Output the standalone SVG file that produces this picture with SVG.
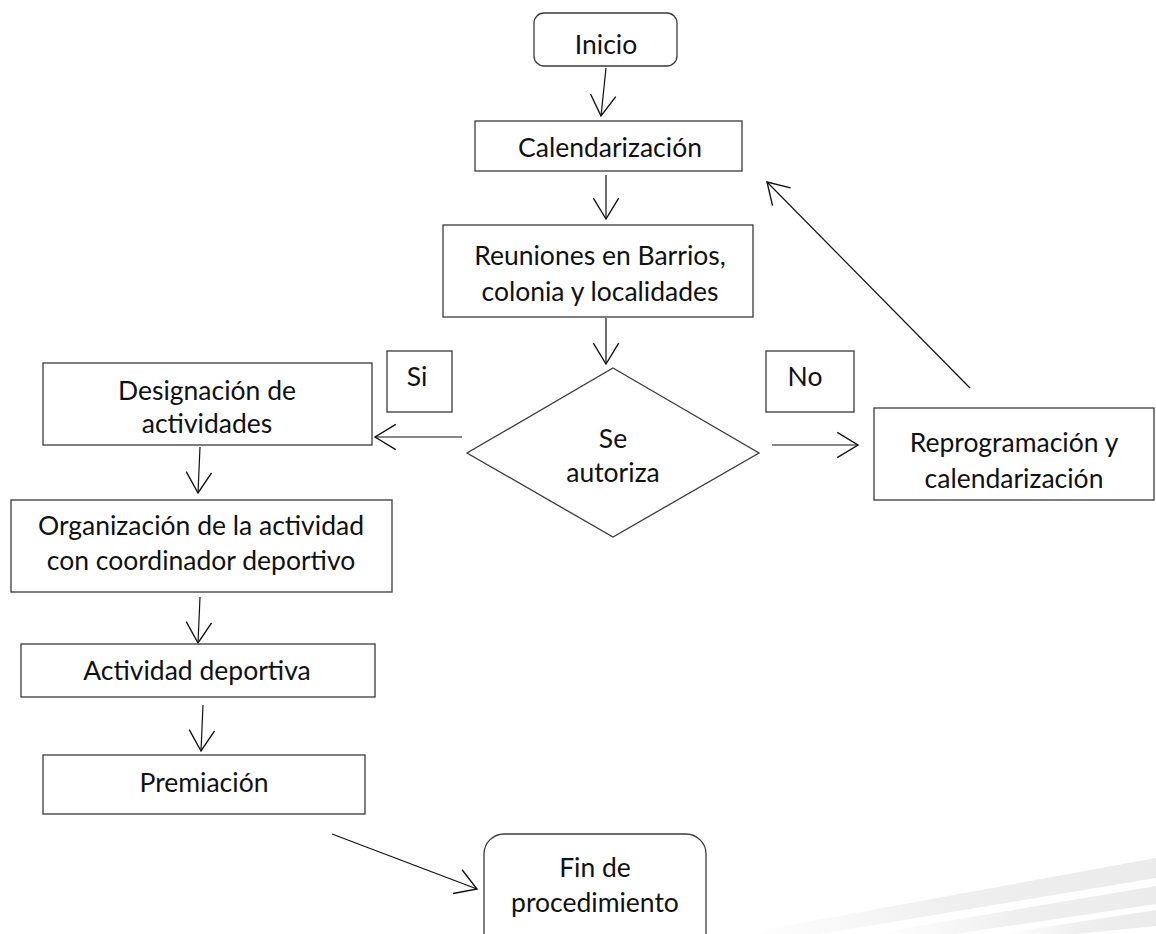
<svg xmlns="http://www.w3.org/2000/svg" width="1156" height="934" viewBox="0 0 1156 934">
<style>
.box{fill:#fff;stroke:#3a3a3a;stroke-width:1.3}
.t{font-family:Lato,"Noto Sans","Liberation Sans",sans-serif;font-size:26.5px;fill:#111;text-anchor:middle}
.c{fill:none;stroke:#111;stroke-width:1.2}
.stripe{fill:url(#sg)}
</style>
<defs>
<marker id="ah" markerUnits="userSpaceOnUse" markerWidth="30" markerHeight="30" viewBox="-20 -13 22 26" refX="0" refY="0" orient="auto">
<path d="M-18,-11 L0,0 L-18,11" fill="none" stroke="#111" stroke-width="1.2"/>
</marker>
<linearGradient id="sg" x1="0" y1="0" x2="1" y2="0">
<stop offset="0" stop-color="#f2f2f2" stop-opacity="0"/>
<stop offset="0.5" stop-color="#efefef" stop-opacity="1"/>
<stop offset="1" stop-color="#ebebeb" stop-opacity="1"/>
</linearGradient>
</defs>
<rect width="1156" height="934" fill="#fff"/>
<g id="background">
<polygon class="stripe" points="740,934 1156,858 1156,878 820,934"/>
<polygon class="stripe" points="870,934 1156,886 1156,904 955,934"/>
<polygon class="stripe" points="1000,934 1156,910 1156,926 1075,934"/>
</g>
<g id="connectors">
<line class="c" x1="606" y1="68" x2="601" y2="116" marker-end="url(#ah)"/>
<line class="c" x1="606" y1="175" x2="606" y2="219" marker-end="url(#ah)"/>
<line class="c" x1="606" y1="318" x2="606" y2="364" marker-end="url(#ah)"/>
<line class="c" x1="462" y1="437" x2="375" y2="437" marker-end="url(#ah)"/>
<line class="c" x1="772" y1="445" x2="858" y2="445" marker-end="url(#ah)"/>
<line class="c" x1="970" y1="388" x2="767" y2="182" marker-end="url(#ah)"/>
<line class="c" x1="200" y1="447" x2="198" y2="493" marker-end="url(#ah)"/>
<line class="c" x1="200" y1="597" x2="198" y2="643" marker-end="url(#ah)"/>
<line class="c" x1="203" y1="705" x2="201" y2="751" marker-end="url(#ah)"/>
<line class="c" x1="332" y1="834" x2="477" y2="889" marker-end="url(#ah)"/>
</g>
<g id="inicio">
<rect class="box" x="534" y="13" width="143" height="53" rx="10"/>
<text class="t" x="606" y="54">Inicio</text>
</g>
<g id="calendarizacion">
<rect class="box" x="475" y="121" width="267" height="50"/>
<text class="t" x="610" y="157">Calendarización</text>
</g>
<g id="reuniones">
<rect class="box" x="443" y="225" width="310" height="92"/>
<text class="t" x="600" y="265">Reuniones en Barrios,</text>
<text class="t" x="600" y="301">colonia y localidades</text>
</g>
<g id="decision">
<polygon class="box" points="613,368 759,453 613,537 467,453"/>
<text class="t" x="613" y="448">Se</text>
<text class="t" x="613" y="482">autoriza</text>
</g>
<g id="si">
<rect class="box" x="387" y="351" width="65" height="61"/>
<text class="t" x="417" y="386">Si</text>
</g>
<g id="no">
<rect class="box" x="766" y="351" width="88" height="61"/>
<text class="t" x="805" y="386">No</text>
</g>
<g id="reprogramacion">
<rect class="box" x="874" y="408" width="280" height="92"/>
<text class="t" x="1014" y="452">Reprogramación y</text>
<text class="t" x="1014" y="488">calendarización</text>
</g>
<g id="designacion">
<rect class="box" x="43" y="363" width="329" height="82"/>
<text class="t" x="207" y="400">Designación de</text>
<text class="t" x="207" y="433">actividades</text>
</g>
<g id="organizacion">
<rect class="box" x="11" y="500" width="381" height="92"/>
<text class="t" x="201" y="535">Organización de la actividad</text>
<text class="t" x="201" y="570">con coordinador deportivo</text>
</g>
<g id="actividad">
<rect class="box" x="21" y="644" width="354" height="53"/>
<text class="t" x="197" y="680">Actividad deportiva</text>
</g>
<g id="premiacion">
<rect class="box" x="43" y="755" width="322" height="59"/>
<text class="t" x="204" y="792">Premiación</text>
</g>
<g id="fin">
<rect class="box" x="484" y="834" width="222" height="130" rx="20"/>
<text class="t" x="595" y="877">Fin de</text>
<text class="t" x="595" y="912">procedimiento</text>
</g>
</svg>
